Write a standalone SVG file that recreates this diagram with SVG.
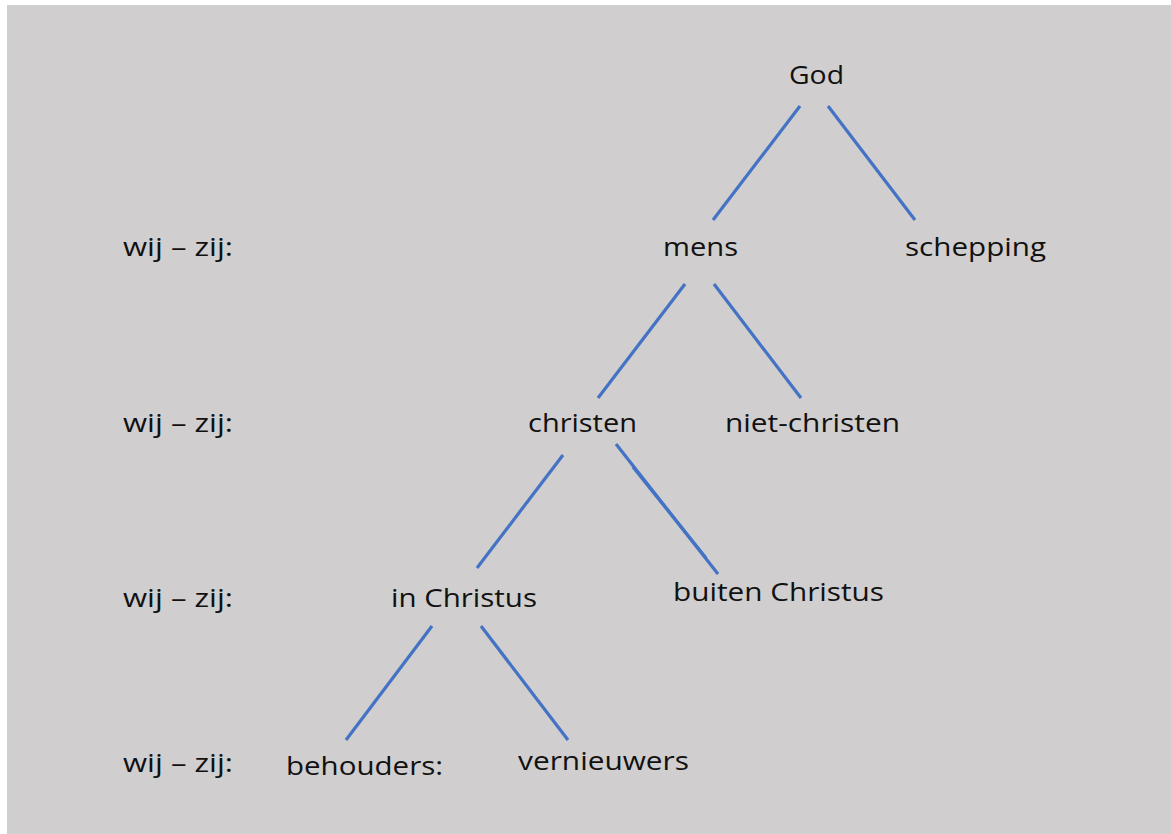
<svg xmlns="http://www.w3.org/2000/svg" width="1171" height="834" viewBox="0 0 1171 834">
<style>
text{font-family:"Open Sans","Noto Sans","Liberation Sans",sans-serif;font-size:25.5px;fill:#111;}
.edge{stroke:#4472C4;stroke-width:3.2;stroke-linecap:butt;fill:none;}
</style>
<rect x="0" y="0" width="1171" height="834" fill="#ffffff"/>
<rect x="7" y="5" width="1164" height="829" fill="#D0CECE"/>
<g id="labels">
<text x="123" y="256" textLength="110" lengthAdjust="spacingAndGlyphs">wij – zij:</text>
<text x="123" y="432" textLength="110" lengthAdjust="spacingAndGlyphs">wij – zij:</text>
<text x="123" y="607" textLength="110" lengthAdjust="spacingAndGlyphs">wij – zij:</text>
<text x="123" y="772" textLength="110" lengthAdjust="spacingAndGlyphs">wij – zij:</text>
</g>
<g id="connectors">
<line class="edge" x1="800" y1="106" x2="713" y2="220"/>
<line class="edge" x1="828" y1="106" x2="915" y2="220"/>
<line class="edge" x1="685" y1="284" x2="598" y2="398"/>
<line class="edge" x1="714" y1="284" x2="801" y2="398"/>
<line class="edge" x1="563" y1="455" x2="477" y2="568"/>
<line class="edge" x1="616" y1="444" x2="718" y2="574"/>
<line class="edge" x1="633" y1="467" x2="706" y2="558"/>
<line class="edge" x1="432" y1="626" x2="346" y2="740"/>
<line class="edge" x1="481" y1="626" x2="568" y2="740"/>
</g>
<g id="node-god"><text x="789" y="84" textLength="55" lengthAdjust="spacingAndGlyphs">God</text></g>
<g id="node-mens"><text x="663" y="256" textLength="75" lengthAdjust="spacingAndGlyphs">mens</text></g>
<g id="node-schepping"><text x="905" y="256" textLength="141" lengthAdjust="spacingAndGlyphs">schepping</text></g>
<g id="node-christen"><text x="528" y="432" textLength="109" lengthAdjust="spacingAndGlyphs">christen</text></g>
<g id="node-niet-christen"><text x="725" y="432" textLength="175" lengthAdjust="spacingAndGlyphs">niet-christen</text></g>
<g id="node-in-christus"><text x="391" y="607" textLength="146" lengthAdjust="spacingAndGlyphs">in Christus</text></g>
<g id="node-buiten-christus"><text x="673" y="601" textLength="211" lengthAdjust="spacingAndGlyphs">buiten Christus</text></g>
<g id="node-behouders"><text x="286" y="775" textLength="157" lengthAdjust="spacingAndGlyphs">behouders:</text></g>
<g id="node-vernieuwers"><text x="518" y="770" textLength="171" lengthAdjust="spacingAndGlyphs">vernieuwers</text></g>
</svg>
